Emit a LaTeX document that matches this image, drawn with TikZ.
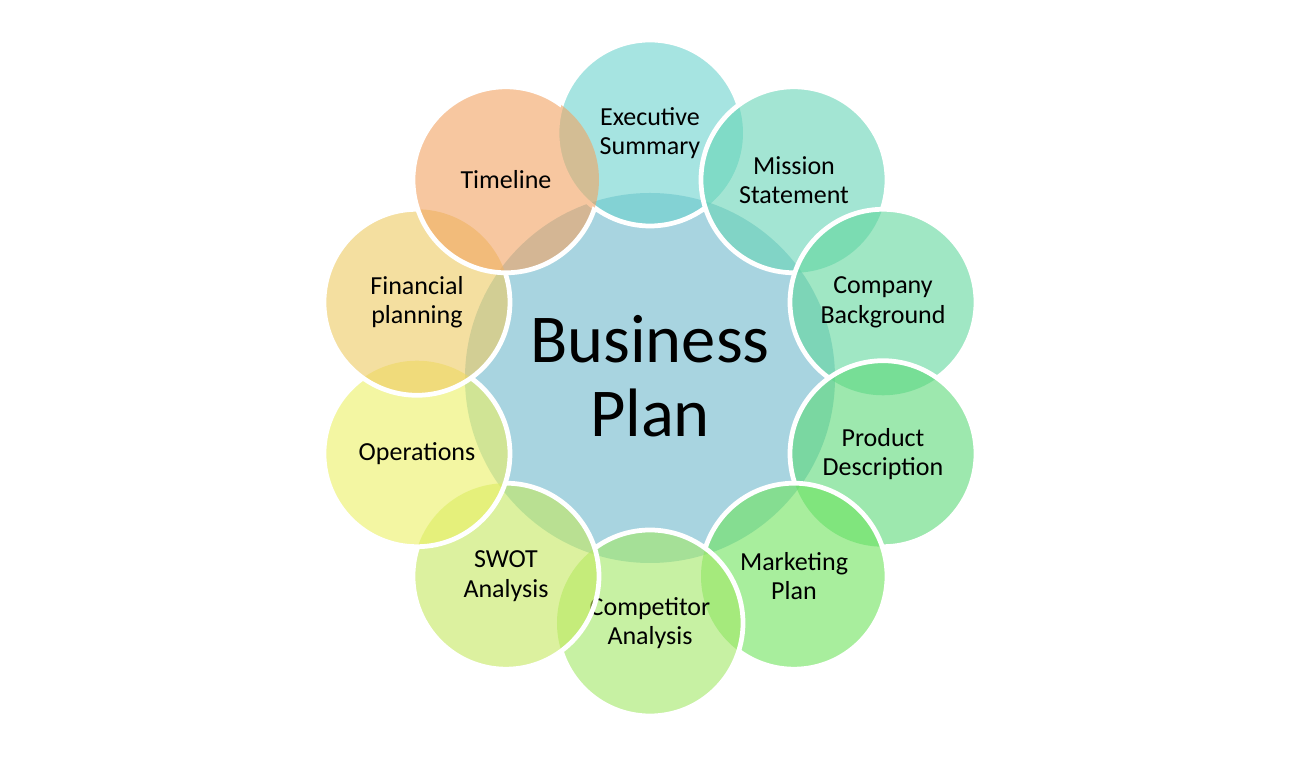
\documentclass[tikz,border=0pt]{standalone}
\usepackage{fontspec}
\setmainfont{Carlito}
\definecolor{cCore}{RGB}{168,212,224}
\definecolor{cExec}{RGB}{107,210,205}
\definecolor{cMiss}{RGB}{103,213,182}
\definecolor{cComp}{RGB}{97,215,157}
\definecolor{cProd}{RGB}{92,217,120}
\definecolor{cMark}{RGB}{110,227,93}
\definecolor{cCompet}{RGB}{163,232,103}
\definecolor{cSwot}{RGB}{197,233,95}
\definecolor{cOper}{RGB}{235,240,100}
\definecolor{cFin}{RGB}{238,202,98}
\definecolor{cTime}{RGB}{242,163,98}
\tikzset{
  petal/.style={fill opacity=0.6},
  rim/.style={draw=white,line width=2.7pt},
  petaltext/.style={align=center,inner sep=0pt,font=\fontsize{14.8}{16.6}\selectfont},
  coretext/.style={align=center,inner sep=0pt,font=\fontsize{39}{42}\selectfont}
}
\begin{document}
\begin{tikzpicture}[x=0.02cm,y=0.02cm]
    \useasboundingbox[fill=white] (-650,-388) rectangle (666,378);

    % centre
    \fill[cCore] (0,0) circle (185);
    \node[coretext] (core) at (0,2) {Business\\Plan};

    % petals, clockwise from the top
    \foreach \a/\c/\n/\t in {
        90/cExec/exec/{Executive\\Summary},
        54/cMiss/miss/{Mission\\Statement},
        18/cComp/comp/{Company\\Background},
        -18/cProd/prod/{Product\\Description},
        -54/cMark/mark/{Marketing\\Plan},
        -90/cCompet/compet/{Competitor\\Analysis},
        -126/cSwot/swot/{SWOT\\Analysis},
        -162/cOper/oper/{Operations},
        162/cFin/fin/{Financial\\planning},
        126/cTime/time/{Timeline}} {
      \fill[\c,petal] (\a:245) circle (93);
      \begin{scope}[even odd rule]
        \clip (-700,-420) rectangle (700,420) (\a-36:245) circle (93);
        \draw[rim] (\a:245) circle (93);
      \end{scope}
      \node[petaltext] (\n) at (\a:245) {\t};
    }
\end{tikzpicture}
\end{document}
